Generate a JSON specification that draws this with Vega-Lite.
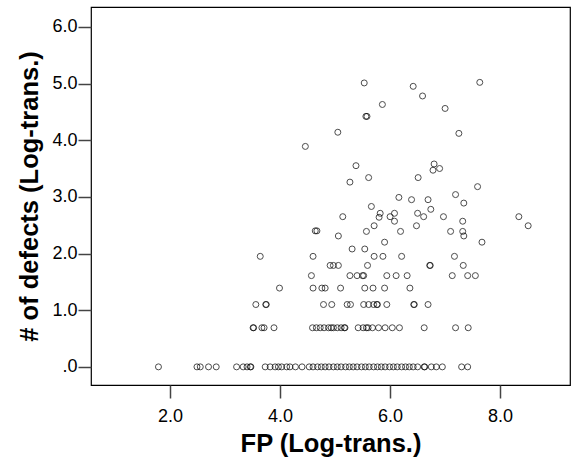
{
  "$schema": "https://vega.github.io/schema/vega-lite/v6.json",
  "width": 479,
  "height": 378,
  "autosize": "none",
  "padding": {"left": 91, "top": 7, "right": 10, "bottom": 78},
  "background": "white",
  "config": {
    "view": {"stroke": "#000", "strokeWidth": 1.2},
    "axis": {
      "grid": false,
      "domain": false,
      "tickColor": "#444",
      "tickWidth": 1.5,
      "tickSize": 13,
      "labelFont": "Liberation Sans",
      "labelFontSize": 18,
      "labelColor": "#000",
      "titleFont": "Liberation Sans",
      "titleFontSize": 25.5,
      "titleFontWeight": "bold",
      "titleColor": "#000"
    }
  },
  "data": {
    "values": [
      {"x": 1.79, "y": 0}, {"x": 2.49, "y": 0}, {"x": 2.55, "y": 0}, {"x": 2.70, "y": 0}, {"x": 2.84, "y": 0},
      {"x": 3.21, "y": 0}, {"x": 3.33, "y": 0}, {"x": 3.40, "y": 0}, {"x": 3.46, "y": 0}, {"x": 3.47, "y": 0},
      {"x": 3.73, "y": 0}, {"x": 3.82, "y": 0}, {"x": 3.91, "y": 0}, {"x": 3.97, "y": 0}, {"x": 4.03, "y": 0},
      {"x": 4.12, "y": 0}, {"x": 4.18, "y": 0}, {"x": 4.28, "y": 0}, {"x": 4.40, "y": 0},
      {"x": 4.53, "y": 0}, {"x": 4.60, "y": 0}, {"x": 4.68, "y": 0}, {"x": 4.75, "y": 0}, {"x": 4.82, "y": 0},
      {"x": 4.89, "y": 0}, {"x": 4.97, "y": 0}, {"x": 5.04, "y": 0}, {"x": 5.11, "y": 0}, {"x": 5.19, "y": 0},
      {"x": 5.26, "y": 0}, {"x": 5.33, "y": 0}, {"x": 5.40, "y": 0}, {"x": 5.48, "y": 0}, {"x": 5.55, "y": 0},
      {"x": 5.62, "y": 0}, {"x": 5.70, "y": 0}, {"x": 5.77, "y": 0}, {"x": 5.84, "y": 0}, {"x": 5.91, "y": 0},
      {"x": 5.99, "y": 0}, {"x": 6.06, "y": 0}, {"x": 6.13, "y": 0}, {"x": 6.21, "y": 0}, {"x": 6.28, "y": 0},
      {"x": 6.35, "y": 0}, {"x": 6.42, "y": 0}, {"x": 6.50, "y": 0}, {"x": 6.62, "y": 0}, {"x": 6.63, "y": 0},
      {"x": 6.75, "y": 0}, {"x": 6.84, "y": 0}, {"x": 6.95, "y": 0}, {"x": 7.30, "y": 0}, {"x": 7.41, "y": 0},
      {"x": 3.51, "y": 0.69}, {"x": 3.52, "y": 0.69}, {"x": 3.67, "y": 0.69}, {"x": 3.71, "y": 0.69}, {"x": 3.89, "y": 0.69},
      {"x": 4.59, "y": 0.69}, {"x": 4.66, "y": 0.69}, {"x": 4.73, "y": 0.69}, {"x": 4.80, "y": 0.69}, {"x": 4.88, "y": 0.69},
      {"x": 4.93, "y": 0.69}, {"x": 4.97, "y": 0.69}, {"x": 5.04, "y": 0.69}, {"x": 5.11, "y": 0.69}, {"x": 5.17, "y": 0.69},
      {"x": 5.18, "y": 0.69}, {"x": 5.42, "y": 0.69}, {"x": 5.51, "y": 0.69}, {"x": 5.57, "y": 0.69}, {"x": 5.60, "y": 0.69},
      {"x": 5.68, "y": 0.69}, {"x": 5.79, "y": 0.69}, {"x": 5.91, "y": 0.69}, {"x": 6.04, "y": 0.69}, {"x": 6.17, "y": 0.69},
      {"x": 6.62, "y": 0.69}, {"x": 7.19, "y": 0.69}, {"x": 7.42, "y": 0.69},
      {"x": 3.56, "y": 1.10}, {"x": 3.74, "y": 1.10}, {"x": 3.75, "y": 1.10}, {"x": 4.79, "y": 1.10}, {"x": 4.94, "y": 1.10},
      {"x": 5.22, "y": 1.10}, {"x": 5.28, "y": 1.10}, {"x": 5.52, "y": 1.10}, {"x": 5.61, "y": 1.10}, {"x": 5.70, "y": 1.10},
      {"x": 5.76, "y": 1.10}, {"x": 5.77, "y": 1.10}, {"x": 5.94, "y": 1.10}, {"x": 6.43, "y": 1.10}, {"x": 6.44, "y": 1.10},
      {"x": 6.69, "y": 1.10},
      {"x": 3.99, "y": 1.39}, {"x": 4.60, "y": 1.39}, {"x": 4.76, "y": 1.39}, {"x": 4.82, "y": 1.39}, {"x": 5.10, "y": 1.39},
      {"x": 5.54, "y": 1.39}, {"x": 5.69, "y": 1.39}, {"x": 5.90, "y": 1.39}, {"x": 6.36, "y": 1.39},
      {"x": 4.57, "y": 1.61}, {"x": 5.27, "y": 1.61}, {"x": 5.40, "y": 1.61}, {"x": 5.50, "y": 1.61}, {"x": 5.52, "y": 1.61},
      {"x": 5.94, "y": 1.61}, {"x": 6.11, "y": 1.61}, {"x": 6.31, "y": 1.61}, {"x": 7.13, "y": 1.61}, {"x": 7.41, "y": 1.61},
      {"x": 7.55, "y": 1.61},
      {"x": 4.91, "y": 1.79}, {"x": 4.97, "y": 1.79}, {"x": 5.06, "y": 1.79}, {"x": 5.59, "y": 1.79}, {"x": 6.72, "y": 1.79},
      {"x": 6.73, "y": 1.79}, {"x": 7.33, "y": 1.79},
      {"x": 3.64, "y": 1.95}, {"x": 4.60, "y": 1.95}, {"x": 5.71, "y": 1.95}, {"x": 5.87, "y": 1.95}, {"x": 6.21, "y": 1.95},
      {"x": 7.17, "y": 1.95},
      {"x": 5.31, "y": 2.08}, {"x": 5.54, "y": 2.08},
      {"x": 5.90, "y": 2.20}, {"x": 7.67, "y": 2.20},
      {"x": 5.06, "y": 2.31}, {"x": 7.34, "y": 2.31},
      {"x": 4.64, "y": 2.40}, {"x": 4.67, "y": 2.40}, {"x": 5.57, "y": 2.39}, {"x": 6.19, "y": 2.39}, {"x": 7.10, "y": 2.39},
      {"x": 7.32, "y": 2.39},
      {"x": 5.71, "y": 2.49}, {"x": 6.48, "y": 2.49}, {"x": 8.51, "y": 2.49},
      {"x": 6.08, "y": 2.57}, {"x": 7.32, "y": 2.57},
      {"x": 5.14, "y": 2.65}, {"x": 5.80, "y": 2.64}, {"x": 6.00, "y": 2.65}, {"x": 6.61, "y": 2.65}, {"x": 6.97, "y": 2.65},
      {"x": 8.34, "y": 2.65},
      {"x": 5.82, "y": 2.71}, {"x": 6.08, "y": 2.71}, {"x": 6.50, "y": 2.71},
      {"x": 6.74, "y": 2.78}, {"x": 5.66, "y": 2.83}, {"x": 7.34, "y": 2.89},
      {"x": 6.39, "y": 2.95}, {"x": 6.69, "y": 2.95}, {"x": 6.16, "y": 2.99}, {"x": 7.19, "y": 3.04},
      {"x": 7.59, "y": 3.18}, {"x": 5.27, "y": 3.26}, {"x": 5.61, "y": 3.34}, {"x": 6.51, "y": 3.34},
      {"x": 6.78, "y": 3.47}, {"x": 6.90, "y": 3.50}, {"x": 5.38, "y": 3.55}, {"x": 6.80, "y": 3.58},
      {"x": 4.46, "y": 3.89}, {"x": 7.25, "y": 4.12}, {"x": 5.05, "y": 4.14},
      {"x": 5.56, "y": 4.42}, {"x": 5.58, "y": 4.42},
      {"x": 7.00, "y": 4.56}, {"x": 5.86, "y": 4.63}, {"x": 6.59, "y": 4.78}, {"x": 6.42, "y": 4.95},
      {"x": 5.53, "y": 5.01}, {"x": 7.63, "y": 5.02}
    ]
  },
  "mark": {"type": "point", "shape": "circle", "filled": false, "stroke": "#000", "strokeWidth": 1, "size": 36, "clip": true},
  "encoding": {
    "x": {
      "field": "x", "type": "quantitative",
      "scale": {"domain": [0.564, 9.27], "nice": false, "zero": false},
      "axis": {"values": [2, 4, 6, 8], "format": ".1f", "labelPadding": 9, "titlePadding": 6, "title": "FP (Log-trans.)"}
    },
    "y": {
      "field": "y", "type": "quantitative",
      "scale": {"domain": [-0.32, 6.35], "nice": false, "zero": false},
      "axis": {"values": [0, 1, 2, 3, 4, 5, 6], "labelExpr": "datum.value == 0 ? '.0' : format(datum.value, '.1f')", "labelPadding": 1, "titlePadding": 9, "title": "# of defects (Log-trans.)"}
    }
  }
}
